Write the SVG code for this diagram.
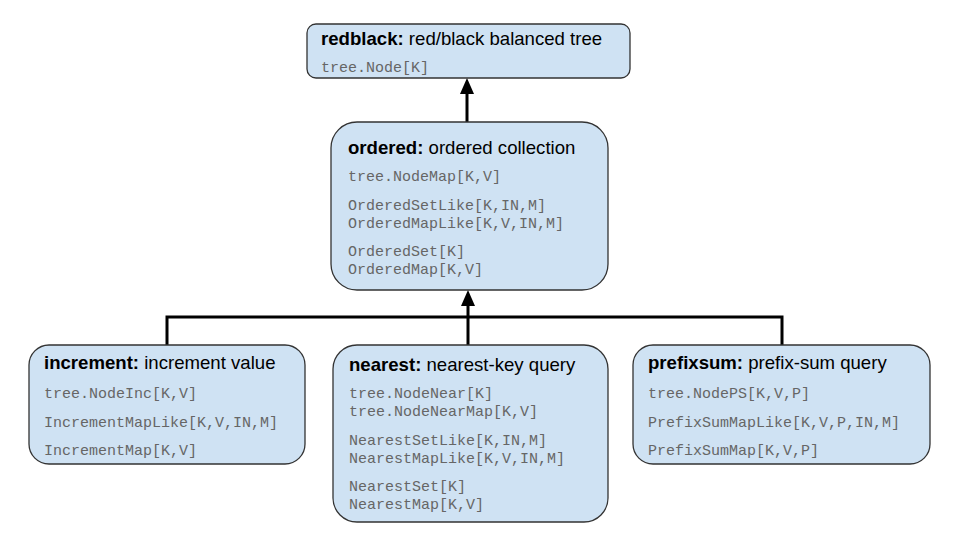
<svg xmlns="http://www.w3.org/2000/svg" width="960" height="540" viewBox="0 0 960 540">
<defs>
<marker id="arr" markerWidth="16" markerHeight="14" refX="0" refY="0" orient="auto" markerUnits="userSpaceOnUse" viewBox="0 -7 16 14">
<path d="M0,-7 L16,0 L0,7 Z" fill="#000"/>
</marker>
</defs>
<style>
.box{fill:#cfe2f3;stroke:#333;stroke-width:1.3}
.t{font-family:"Liberation Sans",Arial,sans-serif;font-size:18.6px;fill:#000}
.b{font-weight:bold}
.m{font-family:"Liberation Mono","Courier New",monospace;font-size:15px;fill:#666}
.c{fill:none;stroke:#000;stroke-width:3}
</style>
<rect width="960" height="540" fill="#fff"/>
<g id="connectors">
<path class="c" d="M467,122 L467,94" marker-end="url(#arr)"/>
<path class="c" d="M167,345 L167,317 L782,317 L782,345"/>
<path class="c" d="M468,345 L468,306" marker-end="url(#arr)"/>
</g>
<g id="redblack">
<rect class="box" x="307" y="24" width="323" height="54" rx="9"/>
<text class="t" x="321" y="45"><tspan class="b">redblack:</tspan> red/black balanced tree</text>
<text class="m" x="321" y="72">tree.Node[K]</text>
</g>
<g id="ordered">
<rect class="box" x="331" y="122" width="277" height="168" rx="26"/>
<text class="t" x="348" y="154"><tspan class="b">ordered:</tspan> ordered collection</text>
<text class="m" x="348" y="181">tree.NodeMap[K,V]</text>
<text class="m" x="348" y="210">OrderedSetLike[K,IN,M]</text>
<text class="m" x="348" y="228">OrderedMapLike[K,V,IN,M]</text>
<text class="m" x="348" y="256">OrderedSet[K]</text>
<text class="m" x="348" y="274">OrderedMap[K,V]</text>
</g>
<g id="increment">
<rect class="box" x="29" y="345" width="276" height="119" rx="20"/>
<text class="t" x="44" y="369"><tspan class="b">increment:</tspan> increment value</text>
<text class="m" x="44" y="398">tree.NodeInc[K,V]</text>
<text class="m" x="44" y="427">IncrementMapLike[K,V,IN,M]</text>
<text class="m" x="44" y="455">IncrementMap[K,V]</text>
</g>
<g id="nearest">
<rect class="box" x="333" y="345" width="275" height="177" rx="24"/>
<text class="t" x="349" y="371"><tspan class="b">nearest:</tspan> nearest-key query</text>
<text class="m" x="349" y="398">tree.NodeNear[K]</text>
<text class="m" x="349" y="416">tree.NodeNearMap[K,V]</text>
<text class="m" x="349" y="445">NearestSetLike[K,IN,M]</text>
<text class="m" x="349" y="463">NearestMapLike[K,V,IN,M]</text>
<text class="m" x="349" y="491">NearestSet[K]</text>
<text class="m" x="349" y="509">NearestMap[K,V]</text>
</g>
<g id="prefixsum">
<rect class="box" x="633" y="345" width="297" height="119" rx="20"/>
<text class="t" x="648" y="369"><tspan class="b">prefixsum:</tspan> prefix-sum query</text>
<text class="m" x="648" y="398">tree.NodePS[K,V,P]</text>
<text class="m" x="648" y="427">PrefixSumMapLike[K,V,P,IN,M]</text>
<text class="m" x="648" y="455">PrefixSumMap[K,V,P]</text>
</g>
</svg>
